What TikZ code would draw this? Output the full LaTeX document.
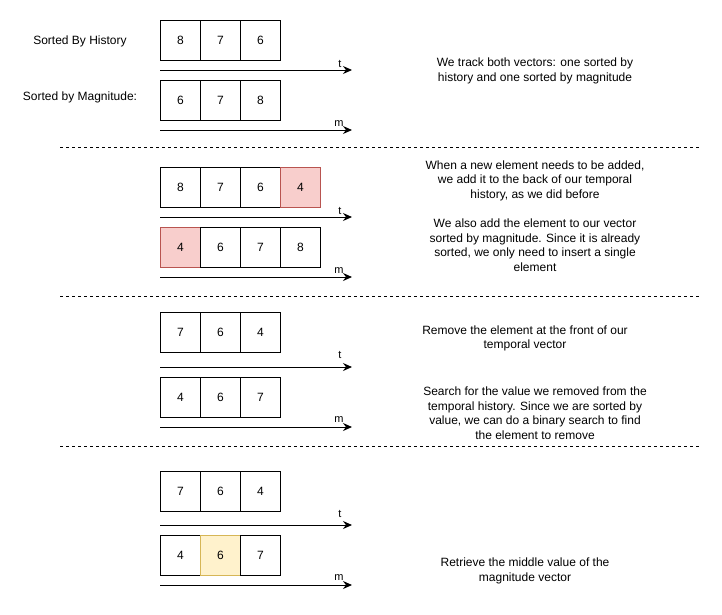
\documentclass[tikz,border=0pt]{standalone}
\usepackage{fontspec}
\setmainfont{Liberation Sans}
\usetikzlibrary{arrows.meta}
\definecolor{redfill}{HTML}{F8CECC}
\definecolor{redline}{HTML}{B85450}
\definecolor{yelfill}{HTML}{FFF2CC}
\definecolor{yelline}{HTML}{D6B656}
\tikzset{
  cell/.style={draw=black, line width=1pt, minimum width=40pt, minimum height=40pt, inner sep=0pt, anchor=north west, font=\fontsize{12}{14}\selectfont},
  newcell/.style={cell, fill=redfill, draw=redline},
  midcell/.style={cell, fill=yelfill, draw=yelline},
  axis/.style={line width=1pt, -{Stealth[length=9pt,width=8pt,inset=3pt]}},
  axlabel/.style={anchor=base, inner sep=0pt, font=\fontsize{11}{12}\selectfont},
  desc/.style={align=center, inner sep=0pt, font=\fontsize{12}{14.5}\selectfont},
  sep/.style={line width=1pt, dash pattern=on 3pt off 3pt}
}
\begin{document}
\begin{tikzpicture}[x=1pt,y=-1pt]
\useasboundingbox (0,0) rectangle (722,614);
% ---------- Section 1 ----------
\node[desc] (lblh) at (80,41) {Sorted By History};
\node[desc] (lblm) at (80,97) {Sorted by Magnitude:};
\node[cell] (a1) at (160,20) {8};
\node[cell] (a2) at (200,20) {7};
\node[cell] (a3) at (240,20) {6};
\coordinate (at0) at (160,70); \coordinate (at1) at (352,70);
\draw[axis] (at0) -- (at1);
\node[axlabel] (atl) at (340,67) {t};
\node[cell] (b1) at (160,80) {6};
\node[cell] (b2) at (200,80) {7};
\node[cell] (b3) at (240,80) {8};
\coordinate (bm0) at (160,130); \coordinate (bm1) at (352,130);
\draw[axis] (bm0) -- (bm1);
\node[axlabel] (bml) at (339,126) {m};
\node[desc] (d1) at (535,71) {We track both vectors: one sorted by\\history and one sorted by magnitude};
\coordinate (s1l) at (60,147); \coordinate (s1r) at (700,147);
\draw[sep] (s1l) -- (s1r);
% ---------- Section 2 ----------
\node[cell] (c1) at (160,167) {8};
\node[cell] (c2) at (200,167) {7};
\node[cell] (c3) at (240,167) {6};
\node[newcell] (c4) at (280,167) {4};
\coordinate (ct0) at (160,217); \coordinate (ct1) at (352,217);
\draw[axis] (ct0) -- (ct1);
\node[axlabel] (ctl) at (340,214) {t};
\node[newcell] (e1) at (160,227) {4};
\node[cell] (e2) at (200,227) {6};
\node[cell] (e3) at (240,227) {7};
\node[cell] (e4) at (280,227) {8};
\coordinate (em0) at (160,277); \coordinate (em1) at (352,277);
\draw[axis] (em0) -- (em1);
\node[axlabel] (eml) at (339,273) {m};
\node[desc] (d2) at (535,180.5) {When a new element needs to be added,\\we add it to the back of our temporal\\history, as we did before};
\node[desc] (d3) at (535,245) {We also add the element to our vector\\sorted by magnitude. Since it is already\\sorted, we only need to insert a single\\element};
\coordinate (s2l) at (60,296); \coordinate (s2r) at (700,296);
\draw[sep] (s2l) -- (s2r);
% ---------- Section 3 ----------
\node[cell] (f1) at (160,312) {7};
\node[cell] (f2) at (200,312) {6};
\node[cell] (f3) at (240,312) {4};
\coordinate (ft0) at (160,367); \coordinate (ft1) at (352,367);
\draw[axis] (ft0) -- (ft1);
\node[axlabel] (ftl) at (340,358) {t};
\node[cell] (g1) at (160,377) {4};
\node[cell] (g2) at (200,377) {6};
\node[cell] (g3) at (240,377) {7};
\coordinate (gm0) at (160,427); \coordinate (gm1) at (352,427);
\draw[axis] (gm0) -- (gm1);
\node[axlabel] (gml) at (339,422) {m};
\node[desc] (d4) at (525,338.5) {Remove the element at the front of our\\temporal vector};
\node[desc] (d5) at (535,413) {Search for the value we removed from the\\temporal history. Since we are sorted by\\value, we can do a binary search to find\\the element to remove};
\coordinate (s3l) at (60,446); \coordinate (s3r) at (700,446);
\draw[sep] (s3l) -- (s3r);
% ---------- Section 4 ----------
\node[cell] (h1) at (160,471) {7};
\node[cell] (h2) at (200,471) {6};
\node[cell] (h3) at (240,471) {4};
\coordinate (ht0) at (160,525); \coordinate (ht1) at (352,525);
\draw[axis] (ht0) -- (ht1);
\node[axlabel] (htl) at (340,517) {t};
\node[cell] (k1) at (160,535) {4};
\node[midcell] (k2) at (200,535) {6};
\node[cell] (k3) at (240,535) {7};
\coordinate (km0) at (160,585); \coordinate (km1) at (352,585);
\draw[axis] (km0) -- (km1);
\node[axlabel] (kml) at (339,580) {m};
\node[desc] (d6) at (525,571) {Retrieve the middle value of the\\magnitude vector};
\end{tikzpicture}
\end{document}
